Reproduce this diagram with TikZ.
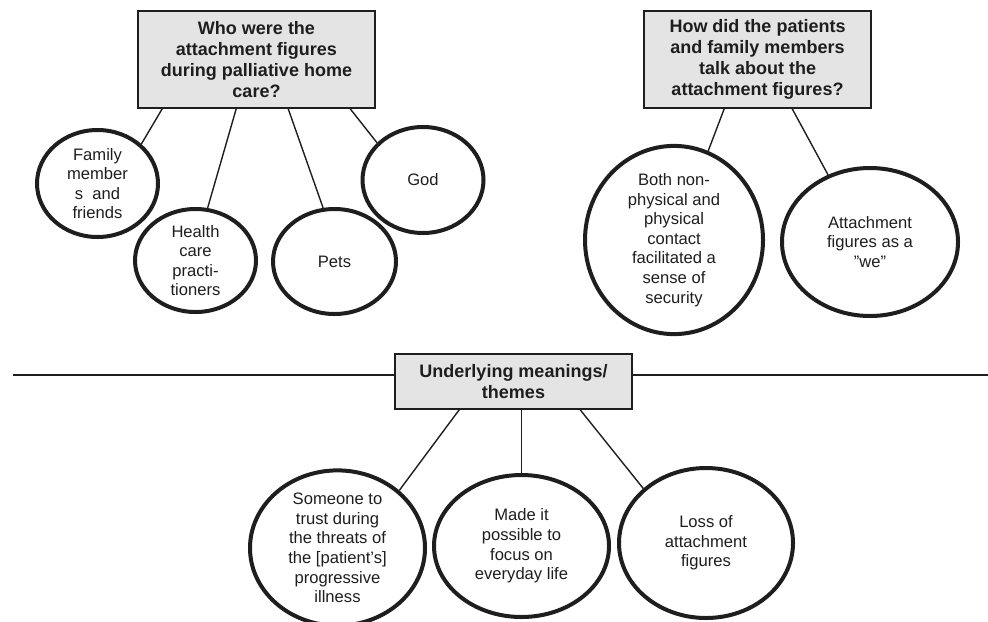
\documentclass[tikz,border=0pt]{standalone}
\usepackage{fontspec}
\setmainfont{Liberation Sans}
\usepackage{tikz}
\usetikzlibrary{calc,shapes.geometric}
\definecolor{BoxGrey}{HTML}{E4E4E4}
\definecolor{InkGrey}{HTML}{1E1E1E}

\begin{document}
\begin{tikzpicture}[x=0.5pt,y=-0.5pt,
    qbox/.style={draw=InkGrey,fill=BoxGrey,line width=0.8pt,inner sep=0pt,
      align=center,font=\fontsize{9}{10.5}\selectfont\bfseries,text=InkGrey},
    theme/.style={ellipse,draw=InkGrey,line width=2pt,inner sep=0pt,
      align=center,font=\fontsize{8.3}{9.8}\selectfont,text=InkGrey},
    link/.style={draw=InkGrey,line width=0.7pt}]
  \useasboundingbox (0,0) rectangle (988,621);

  % question boxes
  \node[qbox,minimum width=118.5pt,minimum height=48.5pt] (q1) at (256.5,59.5)
    {Who were the\\attachment figures\\during palliative home\\care?};
  \node[qbox,minimum width=113.5pt,minimum height=48.5pt] (q2) at (757.5,59.5)
    {How did the patients\\and family members\\talk about the\\attachment figures?};
  \node[qbox,minimum width=118.5pt,minimum height=27.5pt] (q3) at (513.5,381.5)
    {Underlying meanings/\\themes};

  % attachment figures
  \node[theme,minimum width=60.5pt,minimum height=53.5pt] (fam) at (97.5,183.5)
    {Family\\member\\s\ \ and\\friends};
  \node[theme,minimum width=60.5pt,minimum height=51.5pt] (hcp) at (195.5,260.5)
    {Health\\care\\practi-\\tioners};
  \node[theme,minimum width=61.5pt,minimum height=52.5pt] (pets) at (334.5,261.5)
    {Pets};
  \node[theme,minimum width=60.5pt,minimum height=53pt] (god) at (423,180)
    {God};

  % ways of talking
  \node[theme,minimum width=89pt,minimum height=74.5pt] (both) at (674,240)
    {Both non-\\physical and\\physical\\contact\\facilitated a\\sense of\\security};
  \node[theme,minimum width=88pt,minimum height=74pt] (we) at (870,242)
    {Attachment\\figures as a\\''we''};

  % themes
  \node[theme,minimum width=87.5pt,minimum height=69pt] (trust) at (337.5,548)
    {Someone to\\trust during\\the threats of\\the [patient's]\\progressive\\illness};
  \node[theme,minimum width=87.5pt,minimum height=71pt] (focus) at (521.5,546)
    {Made it\\possible to\\focus on\\everyday life};
  \node[theme,minimum width=87pt,minimum height=75pt] (loss) at (706,543)
    {Loss of\\attachment\\figures};

  % divider
  \coordinate (lend) at (13,375);
  \coordinate (rend) at (988,375);
  \draw[draw=InkGrey,line width=1pt] (lend) -- (lend -| q3.west)
    (rend -| q3.east) -- (rend);

  % connectors
  \draw[link] ($(q1.south west)+(25,0)$) -- (fam.42);
  \draw[link] ($(q1.south west)+(99,0)$) -- (hcp.77);
  \draw[link] ($(q1.south west)+(151,0)$) -- (pets.102);
  \draw[link] ($(q1.south west)+(213,0)$) -- (god.141);
  \draw[link] ($(q2.south west)+(81,0)$) -- (both.69);
  \draw[link] ($(q2.south west)+(149,0)$) -- (we.122);
  \draw[link] ($(q3.south west)+(65,0)$) -- (trust.43);
  \draw[link] (focus.north |- q3.south) -- (focus.north);
  \draw[link] ($(q3.south west)+(186,0)$) -- (loss.139);
\end{tikzpicture}
\end{document}
